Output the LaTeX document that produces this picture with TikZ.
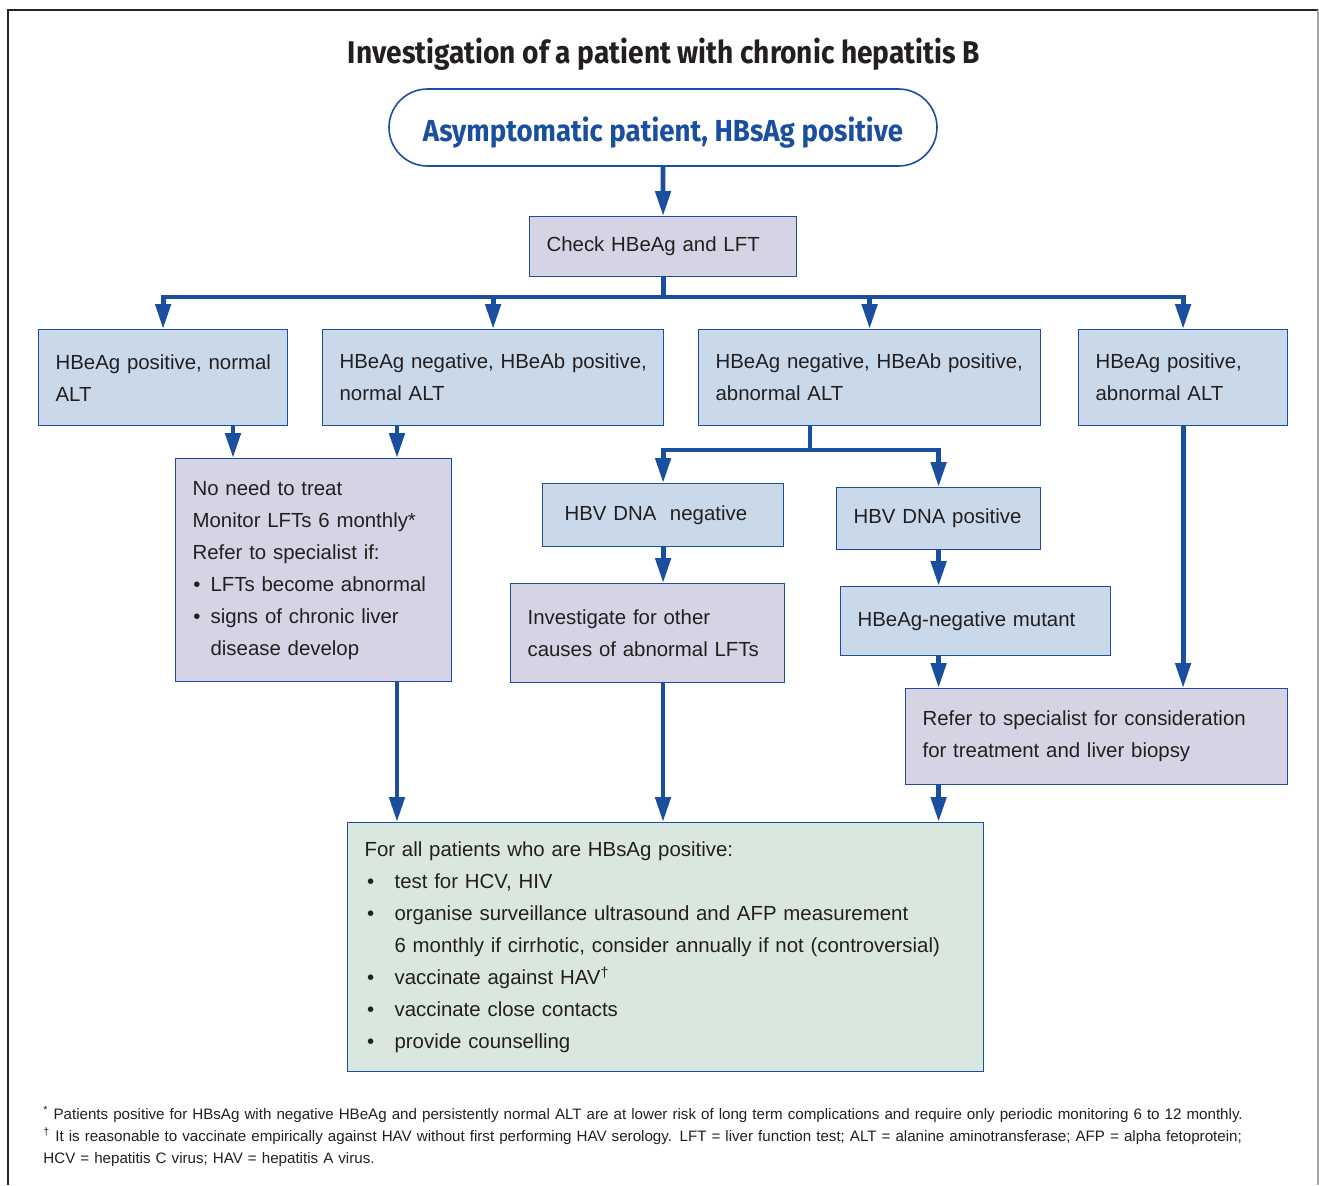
\documentclass[tikz,border=0pt]{standalone}
\usepackage{fontspec}
\usepackage{graphicx}
\setmainfont{Liberation Sans}
\newfontfamily\headf{Fira Sans}
\usetikzlibrary{arrows.meta}
\definecolor{bblue}{HTML}{1A4E9E}
\definecolor{lblue}{HTML}{C9D9EA}
\definecolor{lav}{HTML}{D6D4E4}
\definecolor{lgreen}{HTML}{D9E7DE}
\definecolor{ink}{HTML}{231F20}
\newcommand\bodyf{\fontsize{10.2pt}{16pt}\selectfont}
\newcommand\mybul[1]{\mbox{\makebox[9pt][l]{\hspace{0.4pt}\textbullet}#1}}
\newcommand\mybull[1]{\mbox{\makebox[15pt][l]{\hspace{1.2pt}\textbullet}#1}}
\newcommand\ml[1]{\mbox{#1}}
\begin{document}
\begin{tikzpicture}[x=0.5pt,y=-0.5pt,
 bx/.style={draw=bblue, line width=0.6pt, inner xsep=8.5pt, inner ysep=0pt, anchor=north west, align=left, font=\bodyf, text=ink},
 bluebx/.style={bx, fill=lblue},
 lavbx/.style={bx, fill=lav},
 conn/.style={draw=bblue, line width=2.4pt, -{Triangle[length=12.5pt,width=7.5pt]}},
 busline/.style={draw=bblue, line width=2.4pt},
]
\useasboundingbox (0,0) rectangle (1319,1185);
% frame
\draw[line width=1pt, black!85] (8,1185) -- (8,10) -- (1318,10);
\draw[line width=0.8pt, black!35] (1318,10) -- (1318,1185);

% title
\node[anchor=base, inner sep=0pt, text=ink] (title) at (664,63)
 {\headf\bfseries\fontsize{15.7pt}{16pt}\selectfont\resizebox{316pt}{\height}{Investigation of a patient with chronic hepatitis B}};

% top rounded node
\node[draw=bblue, line width=0.8pt, rounded corners=19.25pt, minimum width=274pt, minimum height=38.5pt, inner sep=0pt, text=bblue, text height=14pt, text depth=0.5pt] (top) at (663,127.5)
 {\headf\bfseries\fontsize{15.2pt}{16pt}\selectfont\resizebox{240pt}{\height}{Asymptomatic patient, HBsAg positive}};

% boxes
\node[lavbx, text width=116.5pt, minimum height=30pt] (check) at (529,216) {\ml{Check HBeAg and LFT}};

\node[bluebx, text width=107.5pt, minimum height=48pt] (b1) at (38,329) {\ml{HBeAg positive, normal}\\\ml{ALT}};
\node[bluebx, text width=153.5pt, minimum height=48pt] (b2) at (322,329) {\ml{HBeAg negative, HBeAb positive,}\\\ml{normal ALT}};
\node[bluebx, text width=154pt, minimum height=48pt] (b3) at (698,329) {\ml{HBeAg negative, HBeAb positive,}\\\ml{abnormal ALT}};
\node[bluebx, text width=87.5pt, minimum height=48pt] (b4) at (1078,329) {\ml{HBeAg positive,}\\\ml{abnormal ALT}};

\node[lavbx, text width=121pt, minimum height=111.5pt] (noneed) at (175,458)
 {\ml{No need to treat}\\\ml{Monitor LFTs 6 monthly*}\\\ml{Refer to specialist if:}\\\mybul{LFTs become abnormal}\\\mybul{signs of chronic liver}\\\mbox{\hspace{9pt}disease develop}};

\node[bluebx, inner xsep=11pt, text width=98.5pt, minimum height=31.5pt] (dneg) at (542,483) {\ml{HBV DNA\ \ negative}};
\node[bluebx, text width=85pt, minimum height=31pt] (dpos) at (836,487) {\ml{HBV DNA positive}};

\node[lavbx, text width=120pt, minimum height=49.5pt] (invest) at (510,583) {\ml{Investigate for other}\\\ml{causes of abnormal LFTs}};
\node[bluebx, text width=118pt, minimum height=34.5pt] (mutant) at (840,586) {\ml{HBeAg-negative mutant}};
\node[lavbx, text width=174pt, minimum height=48pt] (refer) at (905,688) {\ml{Refer to specialist for consideration}\\\ml{for treatment and liver biopsy}};

\node[bx, fill=lgreen, text width=301pt, minimum height=124.5pt] (final) at (347,822)
 {\ml{For all patients who are HBsAg positive:}\\
  \mybull{test for HCV, HIV}\\
  \mybull{organise surveillance ultrasound and AFP measurement}\\
  \mbox{\hspace{15pt}6 monthly if cirrhotic, consider annually if not (controversial)}\\
  \mybull{vaccinate against HAV\textsuperscript{†}}\\
  \mybull{vaccinate close contacts}\\
  \mybull{provide counselling}};

% footnotes
\node[anchor=north west, inner sep=0pt, align=left, text width=640pt, text=ink, font=\fontsize{7.57pt}{11pt}\selectfont] (notes) at (43,1106)
 {\ml{\textsuperscript{*} Patients positive for HBsAg with negative HBeAg and persistently normal ALT are at lower risk of long term complications and require only periodic monitoring 6 to 12 monthly.}\\
  \ml{\textsuperscript{†} It is reasonable to vaccinate empirically against HAV without first performing HAV serology. LFT = liver function test; ALT = alanine aminotransferase; AFP = alpha fetoprotein;}\\
  \ml{HCV = hepatitis C virus; HAV = hepatitis A virus.}};

% connectors
\draw[conn] (top.south) -- (check.north);
\coordinate (bus) at (check.south |- 0,297);
\draw[busline] (check.south) -- (bus);
\draw[conn] (bus) -| (b1.north);
\draw[conn] (bus) -| (b2.north);
\draw[conn] (bus) -| (b3.north);
\draw[conn] (bus) -| (b4.north);

\draw[conn] (233,0 |- b1.south) -- (233,0 |- noneed.north);
\draw[conn] (397,0 |- b2.south) -- (397,0 |- noneed.north);

\coordinate (split) at (810,450);
\draw[busline] (810,0 |- b3.south) -- (split);
\draw[conn] (split) -| (dneg.north);
\draw[conn] (split) -| (dpos.north);

\draw[conn] (dneg.south) -- (dneg.south |- invest.north);
\draw[conn] (dpos.south) -- (dpos.south |- mutant.north);
\draw[conn] (dpos.south |- mutant.south) -- (dpos.south |- refer.north);
\draw[conn] (b4.south) -- (b4.south |- refer.north);

\draw[conn] (397,0 |- noneed.south) -- (397,0 |- final.north);
\draw[conn] (663,0 |- invest.south) -- (663,0 |- final.north);
\draw[conn] (dpos.south |- refer.south) -- (dpos.south |- final.north);
\end{tikzpicture}
\end{document}
